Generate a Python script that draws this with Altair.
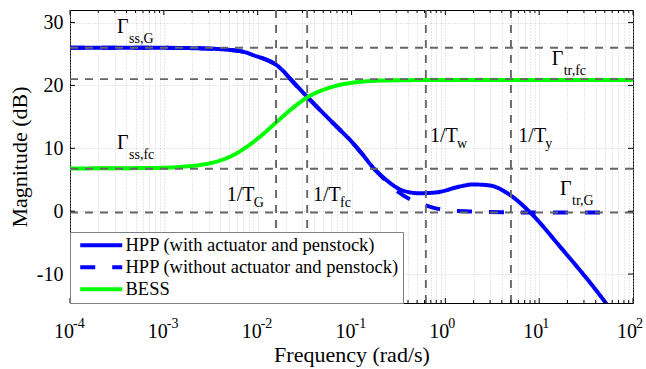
import altair as alt
import pandas as pd

# ---------------- data ----------------
hpp_freq = [1e-4, 3e-4, 1e-3, 0.00243, 0.00546, 0.0077, 0.0089, 0.0123, 0.01567, 0.0187,
            0.0221, 0.027, 0.0336, 0.0462, 0.0755, 0.0964, 0.13, 0.1695, 0.21, 0.257,
            0.354, 0.537, 0.815, 1.43, 1.97, 2.99, 4.89, 7.98, 16.7, 51.5, 60.0]
hpp_mag = [26.0, 26.0, 25.98, 25.9, 25.6, 25.2, 24.84, 24.1, 23.3, 22.3,
           21.1, 19.7, 18.21, 16.1, 12.92, 11.33, 9.1, 6.95, 5.6, 4.5,
           3.26, 2.85, 3.0, 3.93, 4.25, 4.09, 2.58, -0.17, -5.64, -14.64, -16.0]

hpp0_freq = [1e-4, 3e-4, 1e-3, 0.00243, 0.00546, 0.0077, 0.0089, 0.0123, 0.01567, 0.0187,
             0.0221, 0.027, 0.0336, 0.0462, 0.0755, 0.0964, 0.13, 0.1695, 0.21, 0.257,
             0.316, 0.452, 0.676, 0.977, 1.82, 4.0, 10.0, 65.0]
hpp0_mag = [26.0, 26.0, 25.98, 25.9, 25.6, 25.2, 24.84, 24.1, 23.3, 22.3,
            21.1, 19.7, 18.21, 16.1, 12.92, 11.33, 9.1, 6.95, 5.5, 4.3,
            3.05, 1.67, 0.75, 0.19, -0.05, -0.17, -0.2, -0.2]

bess_freq = [1e-4, 1e-3, 0.00149, 0.00243, 0.004, 0.00546, 0.0068, 0.00891, 0.0118, 0.01596,
             0.0221, 0.0341, 0.05, 0.0755, 0.1038, 0.237, 1.0, 100.0]
bess_mag = [6.8, 6.9, 7.05, 7.35, 8.07, 8.9, 9.73, 10.96, 12.45, 14.2,
            16.05, 18.15, 19.3, 20.1, 20.45, 20.8, 20.87, 20.87]

series_names = ["HPP (with actuator and penstock)",
                "HPP (without actuator and penstock)",
                "BESS"]

level_mags = [26.0, 21.0, 6.75, -0.2]
corner_freqs = [0.0157, 0.0337, 0.62, 5.0]

gamma_subs = ["ss,G", "ss,fc", "tr,fc", "tr,G"]
gamma_freqs = [3.17e-4, 3.17e-4, 13.6, 16.7]
gamma_mags = [28.3, 9.9, 23.25, 2.6]

inv_subs = ["G", "fc", "w", "y"]
inv_freqs = [0.00468, 0.0389, 0.687, 6.0]
inv_mags = [1.65, 1.65, 11.06, 11.06]

x_ticks_major = [1e-4, 1e-3, 1e-2, 1e-1, 1e0, 1e1, 1e2]
x_tick_exps = ["-4", "-3", "-2", "-1", "0", "1", "2"]
x_ticks_minor = [m * d for d in x_ticks_major[:-1] for m in range(2, 10)]
y_ticks = [-10, 0, 10, 20, 30]

# ---------------- styling ----------------
W, H = 563, 293
FONT = "Liberation Serif"

xscale = alt.Scale(type="log", domain=[1e-4, 1e2], nice=False)
yscale = alt.Scale(domain=[-14.6, 32], nice=False, zero=False)

xaxis = alt.Axis(
    values=x_ticks_major + x_ticks_minor,
    labelExpr="abs(log(datum.value)/LN10 - round(log(datum.value)/LN10)) < 0.001 ? '10' : ''",
    grid=True, gridDash=[1, 2], gridColor="#c4c4c4", gridWidth=0.8,
    ticks=False, tickSize=0, domain=False,
    labelFont=FONT, labelFontSize=20, labelColor="black", labelPadding=18,
    labelOffset=-6.5, labelBaseline="top", labelFlush=False, labelOverlap=False,
    title="Frequency (rad/s)", titleFont=FONT, titleFontSize=22,
    titleFontWeight="normal", titleColor="black", titlePadding=3,
)
yaxis = alt.Axis(
    values=y_ticks, labelExpr="'' + datum.value",
    grid=True, gridDash=[1, 2], gridColor="#c4c4c4", gridWidth=0.8,
    ticks=False, tickSize=0, domain=False,
    labelFont=FONT, labelFontSize=20, labelColor="black", labelPadding=7,
    title="Magnitude (dB)", titleFont=FONT, titleFontSize=22,
    titleFontWeight="normal", titleColor="black", titlePadding=5,
)

legend = alt.Legend(
    title=None, orient="bottom-left", offset=0,
    labelFont=FONT, labelFontSize=18.5, labelColor="black", labelLimit=1000,
    symbolType="M-0.43,0H5.57", symbolSize=196, symbolStrokeWidth=4,
    labelOffset=33, rowPadding=3, padding=4,
    strokeColor="#808080", fillColor="white",
)

def X(field="freq"):
    return alt.X(f"{field}:Q", scale=xscale, axis=xaxis)

def Y(field="mag"):
    return alt.Y(f"{field}:Q", scale=yscale, axis=yaxis)

curve_df = pd.concat([
    pd.DataFrame({"freq": hpp_freq, "mag": hpp_mag, "series": series_names[0]}),
    pd.DataFrame({"freq": hpp0_freq, "mag": hpp0_mag, "series": series_names[1]}),
    pd.DataFrame({"freq": bess_freq, "mag": bess_mag, "series": series_names[2]}),
], ignore_index=True)

curves = alt.Chart(curve_df).mark_line(strokeWidth=4, clip=True, interpolate="monotone").encode(
    x=X(), y=Y(),
    color=alt.Color("series:N", scale=alt.Scale(domain=series_names,
                                                range=["#0000ff", "#0000ff", "#00ff00"]),
                    legend=legend),
    strokeDash=alt.StrokeDash("series:N", scale=alt.Scale(domain=series_names,
                                                          range=[[1, 0], [15, 17], [1, 0]]),
                              legend=legend),
)

hrules = alt.Chart(pd.DataFrame({"mag": level_mags})).mark_rule(
    color="#666666", strokeWidth=1.9, strokeDash=[8, 7]).encode(y=Y())
vrules = alt.Chart(pd.DataFrame({"freq": corner_freqs})).mark_rule(
    color="#666666", strokeWidth=1.9, strokeDash=[8, 7]).encode(x=X())

major_df = pd.DataFrame({"freq": x_ticks_major, "exp": x_tick_exps})
minor_df = pd.DataFrame({"freq": x_ticks_minor})
ytick_df = pd.DataFrame({"mag": y_ticks})

tick_layers = [
    alt.Chart(major_df).mark_rule(color="black", strokeWidth=1).encode(
        x=X(), y=alt.value(H), y2=alt.value(H - 5)),
    alt.Chart(major_df).mark_rule(color="black", strokeWidth=1).encode(
        x=X(), y=alt.value(0), y2=alt.value(5)),
    alt.Chart(minor_df).mark_rule(color="black", strokeWidth=1).encode(
        x=X(), y=alt.value(H), y2=alt.value(H - 3)),
    alt.Chart(minor_df).mark_rule(color="black", strokeWidth=1).encode(
        x=X(), y=alt.value(0), y2=alt.value(3)),
    alt.Chart(ytick_df).mark_rule(color="black", strokeWidth=1).encode(
        y=Y(), x=alt.value(0), x2=alt.value(5)),
    alt.Chart(ytick_df).mark_rule(color="black", strokeWidth=1).encode(
        y=Y(), x=alt.value(W), x2=alt.value(W - 5)),
]

exps = alt.Chart(major_df).mark_text(
    font=FONT, fontSize=14, align="left", baseline="alphabetic", dx=3, color="black"
).encode(x=X(), y=alt.value(H + 25), text="exp:N")

gamma_df = pd.DataFrame({"freq": gamma_freqs, "mag": gamma_mags, "sub": gamma_subs, "main": "Γ"})
inv_df = pd.DataFrame({"freq": inv_freqs, "mag": inv_mags, "sub": inv_subs, "main": "1/T"})

gamma_main = alt.Chart(gamma_df).mark_text(
    font=FONT, fontSize=20, align="left", baseline="alphabetic", color="black"
).encode(x=X(), y=Y(), text="main:N")
gamma_sub = alt.Chart(gamma_df).mark_text(
    font=FONT, fontSize=14, align="left", baseline="alphabetic", dx=12, dy=10, color="black"
).encode(x=X(), y=Y(), text="sub:N")
inv_main = alt.Chart(inv_df).mark_text(
    font=FONT, fontSize=20, align="left", baseline="alphabetic", color="black"
).encode(x=X(), y=Y(), text="main:N")
inv_sub = alt.Chart(inv_df).mark_text(
    font=FONT, fontSize=14, align="left", baseline="alphabetic", dx=27, dy=6, color="black"
).encode(x=X(), y=Y(), text="sub:N")

chart = alt.layer(
    curves, hrules, vrules, *tick_layers, exps, gamma_main, gamma_sub, inv_main, inv_sub
).properties(
    width=W, height=H,
    padding={"left": 70, "top": 10, "right": 13, "bottom": 66},
    autosize=alt.AutoSizeParams(type="none"),
    background="white",
).configure(font=FONT).configure_view(stroke="black", strokeWidth=1)

chart.save("out.html", embed_options={"renderer": "svg", "actions": False})
